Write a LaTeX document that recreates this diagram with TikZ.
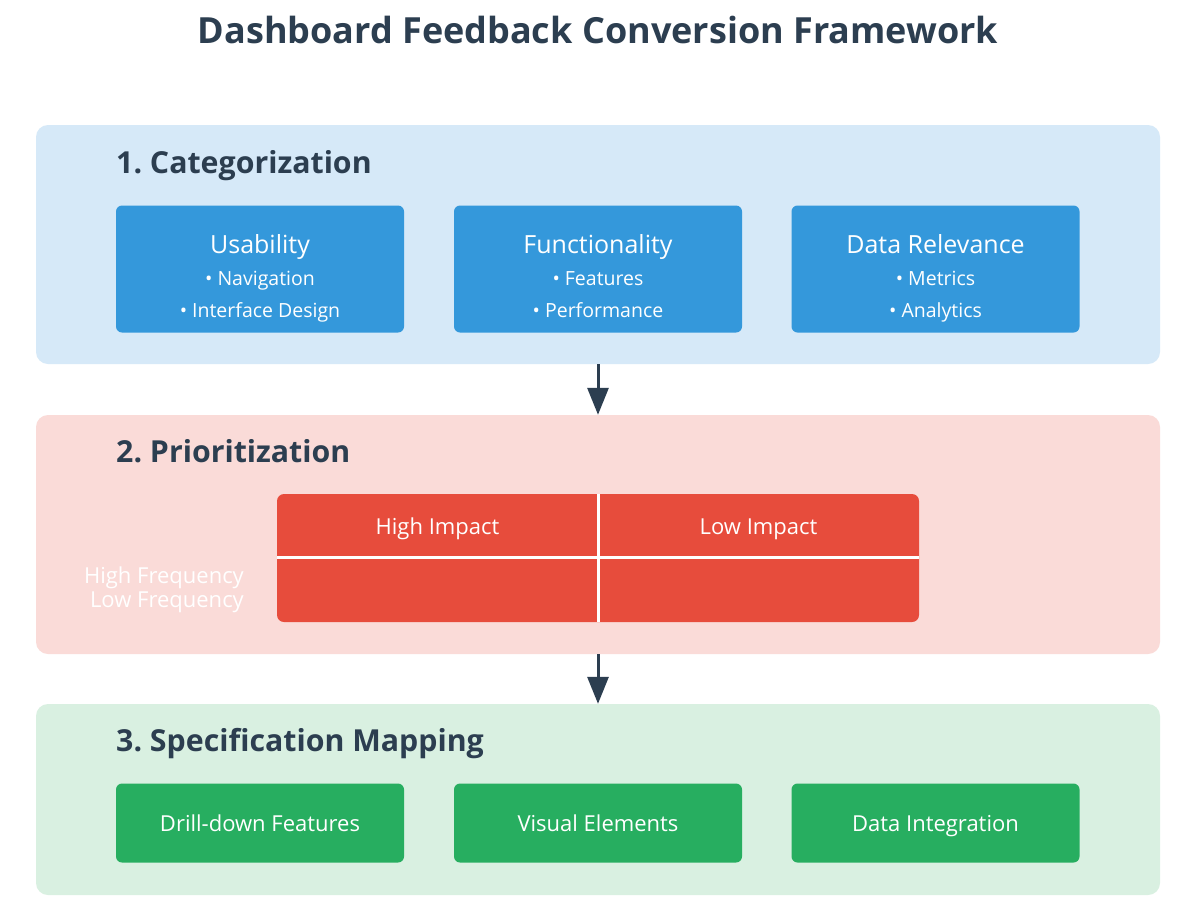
\documentclass[tikz,border=0pt]{standalone}
\usepackage{fontspec}
\setmainfont{Open Sans}
\usetikzlibrary{arrows.meta}
\definecolor{ink}{HTML}{2C3E50}
\definecolor{pblue}{HTML}{D6E9F8}
\definecolor{bblue}{HTML}{3498DB}
\definecolor{pred}{HTML}{FADBD8}
\definecolor{bred}{HTML}{E74C3C}
\definecolor{pgreen}{HTML}{D9F0E1}
\definecolor{bgreen}{HTML}{27AE60}
\tikzset{
  panel/.style={rounded corners=12pt, minimum width=1124pt, inner sep=0pt},
  catbox/.style={fill=bblue, rounded corners=6pt, minimum width=288pt, minimum height=127pt, inner sep=0pt},
  specbox/.style={fill=bgreen, rounded corners=6pt, minimum width=288pt, minimum height=79pt, inner sep=0pt},
  spectext/.style={anchor=base, text=white, font=\fontsize{22}{26}\selectfont, inner sep=0pt},
  sechead/.style={anchor=base west, text=ink, font=\bfseries\fontsize{30.3}{36}\selectfont, inner sep=0pt},
  boxtitle/.style={anchor=base, text=white, font=\fontsize{25}{30}\selectfont, inner sep=0pt},
  bullet/.style={anchor=base, text=white, font=\fontsize{19.5}{23}\selectfont, inner sep=0pt},
  thead/.style={anchor=base, text=white, font=\fontsize{22}{26}\selectfont, inner sep=0pt},
  freq/.style={anchor=base east, text=white, font=\fontsize{22}{26}\selectfont, inner sep=0pt},
  flow/.style={draw=ink, line width=3pt, -{Triangle[length=27pt,width=21pt]}},
  divider/.style={draw=white, line width=3pt}
}
\begin{document}
\frenchspacing
\begin{tikzpicture}[x=1pt,y=-1pt]
\useasboundingbox (0,0) rectangle (1190,918);
\fill[white] (0,0) rectangle (1190,918);

\node[anchor=base, text=ink, font=\bfseries\fontsize{36}{42}\selectfont, inner sep=0pt] (title) at (598,43) {Dashboard Feedback Conversion Framework};

% panels
\node[panel, fill=pblue, minimum height=239pt] (p1) at (598,244.5) {};
\node[panel, fill=pred, minimum height=239pt] (p2) at (598,534.5) {};
\node[panel, fill=pgreen, minimum height=191pt] (p3) at (598,799.5) {};

\draw[flow] (p1.south) -- (p2.north);
\draw[flow] (p2.south) -- (p3.north);

% section 1
\node[sechead] (h1) at (116,173) {1. Categorization};
\node[catbox] (usab) at (260,269) {};
\node[catbox] (func) at (598,269) {};
\node[catbox] (data) at (935.5,269) {};
\node[boxtitle] (usabt) at (260,253) {Usability};
\node[bullet] (usab1) at (260,285) {• Navigation};
\node[bullet] (usab2) at (260,317) {• Interface Design};
\node[boxtitle] (funct) at (598,253) {Functionality};
\node[bullet] (func1) at (598,285) {• Features};
\node[bullet] (func2) at (598,317) {• Performance};
\node[boxtitle] (datat) at (935.5,253) {Data Relevance};
\node[bullet] (data1) at (935.5,285) {• Metrics};
\node[bullet] (data2) at (935.5,317) {• Analytics};

% section 2
\node[sechead] (h2) at (116,462) {2. Prioritization};
\node[fill=bred, rounded corners=7pt, minimum width=642pt, minimum height=128pt, inner sep=0pt] (grid) at (598,558) {};
\coordinate (hl) at (277,557);
\coordinate (hr) at (919,557);
\coordinate (vt) at (598,494);
\coordinate (vb) at (598,622);
\draw[divider] (hl) -- (hr);
\draw[divider] (vt) -- (vb);
\node[thead] (hi) at (437.5,534) {High Impact};
\node[thead] (lo) at (758.5,534) {Low Impact};
\node[freq] (hf) at (244,583) {High Frequency};
\node[freq] (lf) at (244,607.5) {Low Frequency};

% section 3
\node[sechead] (h3) at (116,751) {3. Specification Mapping};
\node[specbox] (drill) at (260,823) {};
\node[specbox] (vis) at (598,823) {};
\node[specbox] (integ) at (935.5,823) {};
\node[spectext] (drillt) at (260,831.5) {Drill-down Features};
\node[spectext] (vist) at (598,831.5) {Visual Elements};
\node[spectext] (integt) at (935.5,831.5) {Data Integration};
\end{tikzpicture}
\end{document}
